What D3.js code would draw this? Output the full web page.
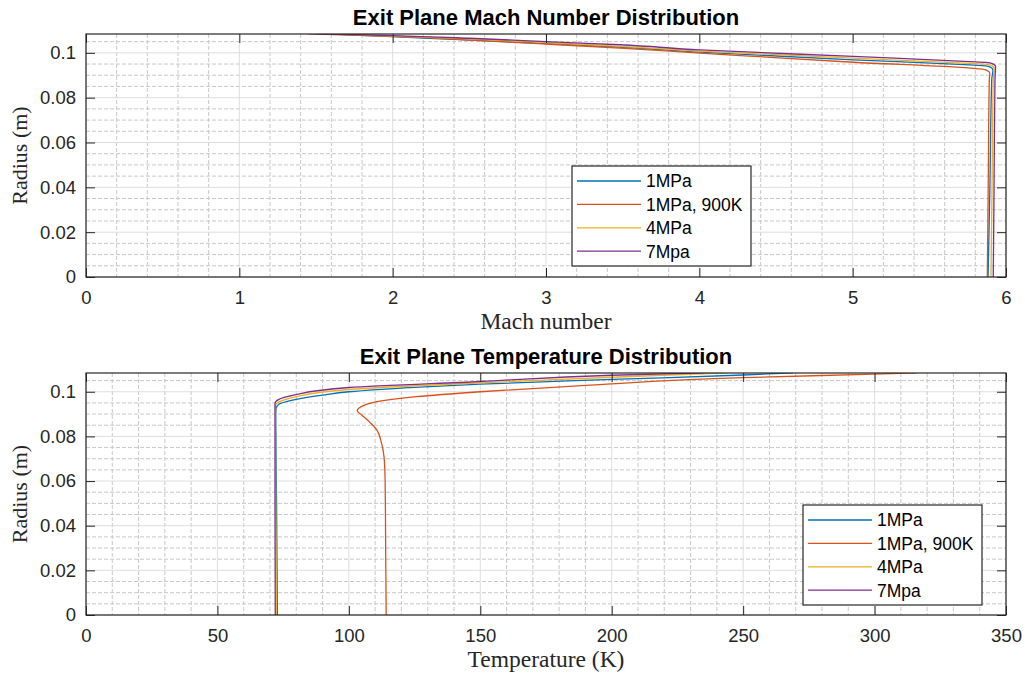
<!DOCTYPE html>
<html>
<head>
<meta charset="utf-8">
<script src="https://cdn.jsdelivr.net/npm/d3@7"></script>
<style>
  html, body { margin: 0; padding: 0; background: #fff; }
  svg { display: block; }
</style>
</head>
<body>
<svg id="chart" width="1025" height="678"></svg>
<script>
// Series labels and MATLAB default line colours
const seriesNames = ["1MPa", "1MPa, 900K", "4MPa", "7Mpa"];
const seriesColors = ["#0072BD", "#D95319", "#EDB120", "#7E2F8E"];

// Axis ticks
const machTicks = [0, 1, 2, 3, 4, 5, 6];
const tempTicks = [0, 50, 100, 150, 200, 250, 300, 350];
const radiusTicks = [0, 0.02, 0.04, 0.06, 0.08, 0.1];
const radiusMax = 0.1084;

// Exit-plane Mach number profiles: [Mach, radius (m)]
const mach1MPa = [
  [5.883, 0], [5.895, 0.04], [5.907, 0.088], [5.915, 0.0924], [5.895, 0.0937],
  [5.85, 0.0943], [5.765, 0.0946], [5.004, 0.0969], [4.004, 0.1003],
  [3.5, 0.1025], [2.9, 0.1045], [2.2, 0.1066], [1.8, 0.1078], [1.6, 0.1085]
];
const mach1MPa900K = [
  [5.878, 0], [5.884, 0.04], [5.891, 0.088], [5.895, 0.0909], [5.875, 0.0922],
  [5.83, 0.0928], [5.765, 0.0932], [5.004, 0.0958], [4.004, 0.0999],
  [3.483, 0.1021], [3.0, 0.1039], [2.5, 0.1057], [2.0, 0.1073], [1.45, 0.1085]
];
const mach4MPa = [
  [5.902, 0], [5.909, 0.04], [5.917, 0.088], [5.922, 0.0932], [5.9, 0.0945],
  [5.86, 0.095], [5.765, 0.0953], [5.004, 0.0976], [4.004, 0.1008],
  [3.483, 0.1029], [3.0, 0.1046], [2.5, 0.1062], [2.0, 0.1075], [1.6, 0.1085]
];
const mach7MPa = [
  [5.917, 0], [5.922, 0.04], [5.928, 0.088], [5.932, 0.0939], [5.91, 0.0952],
  [5.87, 0.0957], [5.765, 0.0961], [5.004, 0.0984], [4.004, 0.1013],
  [3.483, 0.1036], [3.0, 0.105], [2.5, 0.1065], [2.0, 0.1077], [1.5, 0.1085]
];

// Exit-plane static temperature profiles: [T (K), radius (m)]
const temp1MPa = [
  [72.8, 0], [72.5, 0.05], [72.2, 0.09], [72.3, 0.0925], [73.5, 0.0945],
  [79, 0.0964], [90, 0.0985], [100, 0.1], [125, 0.102], [150, 0.1034],
  [200, 0.1055], [250, 0.1075], [269, 0.1085]
];
const temp1MPa900K = [
  [114.2, 0], [114.0, 0.03], [113.8, 0.06], [113.4, 0.0707], [112.2, 0.078],
  [110.8, 0.0826], [108, 0.0863], [105, 0.0895], [103.2, 0.0915],
  [105.5, 0.0938], [113, 0.096], [125.8, 0.0978], [150, 0.1], [191.7, 0.103],
  [250, 0.1063], [299.6, 0.1079], [316, 0.1085]
];
const temp4MPa = [
  [72.4, 0], [72.2, 0.05], [72.1, 0.09], [72.1, 0.094], [73.5, 0.0955],
  [79, 0.0975], [100, 0.101], [150, 0.104], [200, 0.1065], [244, 0.1085]
];
const temp7MPa = [
  [72.0, 0], [71.9, 0.05], [71.9, 0.09], [71.9, 0.0948], [73.2, 0.0965],
  [79, 0.0985], [100, 0.1019], [150, 0.1046], [200, 0.1074], [235, 0.1085]
];

const panels = [
  {
    title: "Exit Plane Mach Number Distribution",
    xLabel: "Mach number",
    xTicks: machTicks, xMinorStep: 0.2,
    series: [mach1MPa, mach1MPa900K, mach4MPa, mach7MPa],
    top: 34, bottom: 277,
    legend: { x: 572, y: 166 }
  },
  {
    title: "Exit Plane Temperature Distribution",
    xLabel: "Temperature (K)",
    xTicks: tempTicks, xMinorStep: 10,
    series: [temp1MPa, temp1MPa900K, temp4MPa, temp7MPa],
    top: 373, bottom: 615,
    legend: { x: 803, y: 505 }
  }
];

const svg = d3.select("#chart");
const left = 86, right = 1006;
const axisColor = "#262626";
const sans = "'Liberation Sans', Arial, Helvetica, sans-serif";
const serif = "'Liberation Serif', 'Times New Roman', serif";

panels.forEach((p, pi) => {
  const xDom = [p.xTicks[0], p.xTicks[p.xTicks.length - 1]];
  const x = d3.scaleLinear().domain(xDom).range([left, right]);
  const y = d3.scaleLinear().domain([0, radiusMax]).range([p.bottom, p.top]);
  const g = svg.append("g");

  // minor grid (dotted)
  const xMinor = d3.range(xDom[0], xDom[1] + 1e-9, p.xMinorStep)
    .filter(v => !p.xTicks.some(t => Math.abs(t - v) < 1e-9));
  const yMinor = d3.range(0, radiusMax, 0.005)
    .filter(v => !radiusTicks.some(t => Math.abs(t - v) < 1e-9));
  g.append("g").selectAll("line").data(xMinor).join("line")
    .attr("x1", d => x(d)).attr("x2", d => x(d))
    .attr("y1", p.top).attr("y2", p.bottom)
    .attr("stroke", "#c8c8c8").attr("stroke-width", 1)
    .attr("stroke-dasharray", "4,2");
  g.append("g").selectAll("line").data(yMinor).join("line")
    .attr("x1", left).attr("x2", right)
    .attr("y1", d => y(d)).attr("y2", d => y(d))
    .attr("stroke", "#c8c8c8").attr("stroke-width", 1)
    .attr("stroke-dasharray", "4,2");

  // major grid
  g.append("g").selectAll("line").data(p.xTicks).join("line")
    .attr("x1", d => x(d)).attr("x2", d => x(d))
    .attr("y1", p.top).attr("y2", p.bottom)
    .attr("stroke", "#dedede").attr("stroke-width", 1);
  g.append("g").selectAll("line").data(radiusTicks).join("line")
    .attr("x1", left).attr("x2", right)
    .attr("y1", d => y(d)).attr("y2", d => y(d))
    .attr("stroke", "#dedede").attr("stroke-width", 1);

  // data lines
  const clipId = "clip" + pi;
  svg.append("clipPath").attr("id", clipId).append("rect")
    .attr("x", left).attr("y", p.top)
    .attr("width", right - left).attr("height", p.bottom - p.top);
  const line = d3.line().x(d => x(d[0])).y(d => y(d[1])).curve(d3.curveMonotoneY);
  g.append("g").attr("clip-path", `url(#${clipId})`)
    .selectAll("path").data(p.series).join("path")
    .attr("d", line)
    .attr("fill", "none")
    .attr("stroke", (d, i) => seriesColors[i])
    .attr("stroke-width", 1.3)
    .attr("stroke-linejoin", "round");

  // axes with inward ticks on all four sides
  const tickLen = 9;
  const axB = d3.axisBottom(x).tickValues(p.xTicks).tickSizeInner(-tickLen).tickSizeOuter(0)
    .tickPadding(14).tickFormat(d3.format("~g"));
  const axT = d3.axisTop(x).tickValues(p.xTicks).tickSizeInner(-tickLen).tickSizeOuter(0).tickFormat("");
  const axL = d3.axisLeft(y).tickValues(radiusTicks).tickSizeInner(-tickLen).tickSizeOuter(0)
    .tickPadding(10).tickFormat(d3.format("~g"));
  const axR = d3.axisRight(y).tickValues(radiusTicks).tickSizeInner(-tickLen).tickSizeOuter(0).tickFormat("");

  const styleAxis = sel => {
    sel.select(".domain").remove();
    sel.selectAll(".tick line").attr("stroke", axisColor).attr("stroke-width", 1);
    sel.selectAll(".tick text").attr("fill", axisColor)
      .style("font-family", sans).style("font-size", "18.5px");
  };
  g.append("g").attr("transform", `translate(0,${p.bottom})`).call(axB).call(styleAxis);
  g.append("g").attr("transform", `translate(0,${p.top})`).call(axT).call(styleAxis);
  g.append("g").attr("transform", `translate(${left},0)`).call(axL).call(styleAxis);
  g.append("g").attr("transform", `translate(${right},0)`).call(axR).call(styleAxis);

  // box
  g.append("rect")
    .attr("x", left).attr("y", p.top)
    .attr("width", right - left).attr("height", p.bottom - p.top)
    .attr("fill", "none").attr("stroke", axisColor).attr("stroke-width", 1.2);

  // title
  g.append("text")
    .attr("x", (left + right) / 2).attr("y", p.top - 9)
    .attr("text-anchor", "middle")
    .attr("fill", "#000")
    .style("font-family", sans).style("font-weight", "bold").style("font-size", "22px")
    .text(p.title);

  // axis labels
  g.append("text")
    .attr("x", (left + right) / 2).attr("y", p.bottom + 52)
    .attr("text-anchor", "middle").attr("fill", axisColor)
    .style("font-family", serif).style("font-size", "23.5px")
    .text(p.xLabel);
  g.append("text")
    .attr("transform", `translate(27,${(p.top + p.bottom) / 2}) rotate(-90)`)
    .attr("text-anchor", "middle").attr("fill", axisColor)
    .style("font-family", serif).style("font-size", "22px")
    .text("Radius (m)");

  // legend
  const lg = g.append("g").attr("transform", `translate(${p.legend.x},${p.legend.y})`);
  lg.append("rect").attr("width", 179).attr("height", 100)
    .attr("fill", "#fff").attr("stroke", axisColor).attr("stroke-width", 1.2);
  seriesNames.forEach((name, i) => {
    const yy = 15 + i * 23.4;
    lg.append("line").attr("x1", 5).attr("x2", 69).attr("y1", yy).attr("y2", yy)
      .attr("stroke", seriesColors[i]).attr("stroke-width", 1.3);
    lg.append("text").attr("x", 74).attr("y", yy).attr("dy", "0.36em")
      .attr("fill", "#000")
      .style("font-family", sans).style("font-size", "17.5px")
      .text(name);
  });
});
</script>
</body>
</html>
